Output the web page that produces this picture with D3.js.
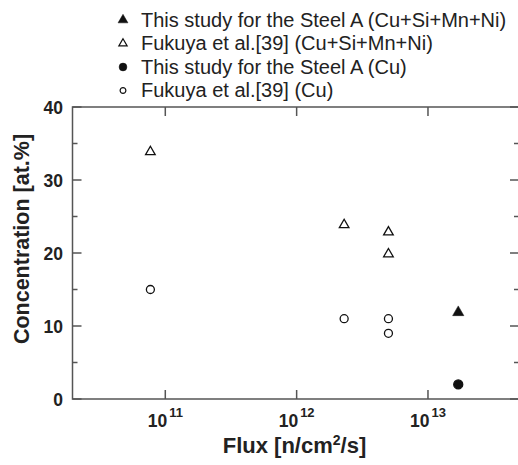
<!DOCTYPE html>
<html>
<head>
<meta charset="utf-8">
<script src="https://cdn.jsdelivr.net/npm/d3@7"></script>
<style>
  body { margin: 0; background: #fff; overflow: hidden; }
  text { font-family: "Liberation Sans", Arial, sans-serif; fill: #222; }
</style>
</head>
<body>
<div id="main"></div>
<script>
// data
const fukuyaTotal = [{flux: 7.7e10, c: 34}, {flux: 2.3e12, c: 24}, {flux: 5e12, c: 23}, {flux: 5e12, c: 20}];
const fukuyaCu = [{flux: 7.7e10, c: 15}, {flux: 2.3e12, c: 11}, {flux: 5e12, c: 11}, {flux: 5e12, c: 9}];
const steelTotal = [{flux: 1.7e13, c: 12}];
const steelCu = [{flux: 1.7e13, c: 2}];
const xTickExps = [11, 12, 13];
const yTicks = [0, 10, 20, 30, 40];
const yMinorTicks = [5, 15, 25, 35];
const legendItems = [
    {label: "This study for the Steel A (Cu+Si+Mn+Ni)", shape: "triangle", filled: true},
    {label: "Fukuya et al.[39] (Cu+Si+Mn+Ni)", shape: "triangle", filled: false},
    {label: "This study for the Steel A (Cu)", shape: "circle", filled: true},
    {label: "Fukuya et al.[39] (Cu)", shape: "circle", filled: false},
];

const W = 518, H = 465;
// right border sits just past the window edge, like the reference
const plotLeft = 72.5, plotRight = 519, plotTop = 107, plotBottom = 399;
const frameColor = "#555";

const svg = d3.select("#main").append("svg")
    .attr("width", W)
    .attr("height", H);

const x = d3.scaleLog()
    .domain([Math.pow(10, 10.2935), Math.pow(10, 13.693)])
    .range([plotLeft, plotRight]);
const y = d3.scaleLinear()
    .domain([0, 40])
    .range([plotBottom, plotTop]);

// frame
svg.append("rect")
    .attr("x", plotLeft).attr("y", plotTop)
    .attr("width", plotRight - plotLeft).attr("height", plotBottom - plotTop)
    .attr("fill", "none")
    .attr("stroke", frameColor)
    .attr("stroke-width", 1.5);

// x ticks (bottom pointing up, top pointing down)
const xTicks = xTickExps.map(e => Math.pow(10, e));
const tickG = svg.append("g").attr("stroke", frameColor).attr("stroke-width", 1.5);
xTicks.forEach(t => {
    tickG.append("line").attr("x1", x(t)).attr("x2", x(t)).attr("y1", plotBottom).attr("y2", plotBottom - 9);
    tickG.append("line").attr("x1", x(t)).attr("x2", x(t)).attr("y1", plotTop).attr("y2", plotTop + 9);
});
// y ticks, inward on both sides
yTicks.forEach(t => {
    tickG.append("line").attr("x1", plotLeft).attr("x2", plotLeft + 9).attr("y1", y(t)).attr("y2", y(t));
    tickG.append("line").attr("x1", plotRight).attr("x2", plotRight - 9).attr("y1", y(t)).attr("y2", y(t));
});
yMinorTicks.forEach(t => {
    tickG.append("line").attr("x1", plotLeft).attr("x2", plotLeft + 5).attr("y1", y(t)).attr("y2", y(t));
    tickG.append("line").attr("x1", plotRight).attr("x2", plotRight - 5).attr("y1", y(t)).attr("y2", y(t));
});

// x tick labels 10^n
xTickExps.forEach(e => {
    const t = svg.append("text")
        .attr("x", x(Math.pow(10, e)))
        .attr("y", 427)
        .attr("text-anchor", "middle")
        .attr("font-weight", "bold")
        .attr("font-size", 17.5);
    t.append("tspan").text("10");
    t.append("tspan").attr("dy", -10).attr("dx", 2).attr("font-size", 13).text(e);
});

// y tick labels
svg.append("g").selectAll("text")
    .data(yTicks)
    .enter()
    .append("text")
    .attr("x", 63)
    .attr("y", d => y(d) + 6.5)
    .attr("text-anchor", "end")
    .attr("font-weight", "bold")
    .attr("font-size", 17.5)
    .text(d => d);

// axis titles
const xt = svg.append("text")
    .attr("x", 294.5)
    .attr("y", 453)
    .attr("text-anchor", "middle")
    .attr("font-weight", "bold")
    .attr("font-size", 22);
xt.append("tspan").text("Flux [n/cm");
xt.append("tspan").attr("dy", -8).attr("font-size", 14).text("2");
xt.append("tspan").attr("dy", 8).text("/s]");

svg.append("text")
    .attr("transform", `translate(29, 239) rotate(-90)`)
    .attr("text-anchor", "middle")
    .attr("font-weight", "bold")
    .attr("font-size", 21.5)
    .text("Concentration [at.%]");

// markers
const tri = d3.symbol().type(d3.symbolTriangle);
function drawTriangles(data, filled, size) {
    svg.append("g").selectAll("path")
        .data(data)
        .enter()
        .append("path")
        .attr("transform", d => `translate(${x(d.flux)}, ${y(d.c) + 1})`)
        .attr("d", tri.size(size)())
        .attr("fill", filled ? "#111" : "none")
        .attr("stroke", "#111")
        .attr("stroke-width", filled ? 0.5 : 1.3);
}
function drawCircles(data, filled, r) {
    svg.append("g").selectAll("circle")
        .data(data)
        .enter()
        .append("circle")
        .attr("cx", d => x(d.flux))
        .attr("cy", d => y(d.c))
        .attr("r", r)
        .attr("fill", filled ? "#111" : "none")
        .attr("stroke", "#111")
        .attr("stroke-width", 1.3);
}
drawTriangles(fukuyaTotal, false, 40);
drawTriangles(steelTotal, true, 55);
drawCircles(fukuyaCu, false, 4);
drawCircles(steelCu, true, 4.5);

// legend
const legend = svg.append("g").selectAll("g")
    .data(legendItems)
    .enter()
    .append("g")
    .attr("transform", (d, i) => `translate(123, ${26.5 + i * 23.5})`);
legend.append("path")
    .attr("d", d => d.shape === "triangle"
        ? tri.size(d.filled ? 42 : 30)()
        : d3.symbol().type(d3.symbolCircle).size(d.filled ? 48 : 26)())
    .attr("transform", "translate(0,-6.5)")
    .attr("fill", d => d.filled ? "#111" : "none")
    .attr("stroke", "#111")
    .attr("stroke-width", d => d.filled ? 0.5 : 1.2);
legend.append("text")
    .attr("x", 18)
    .attr("y", 0)
    .attr("font-size", 20)
    .text(d => d.label);
</script>
</body>
</html>
